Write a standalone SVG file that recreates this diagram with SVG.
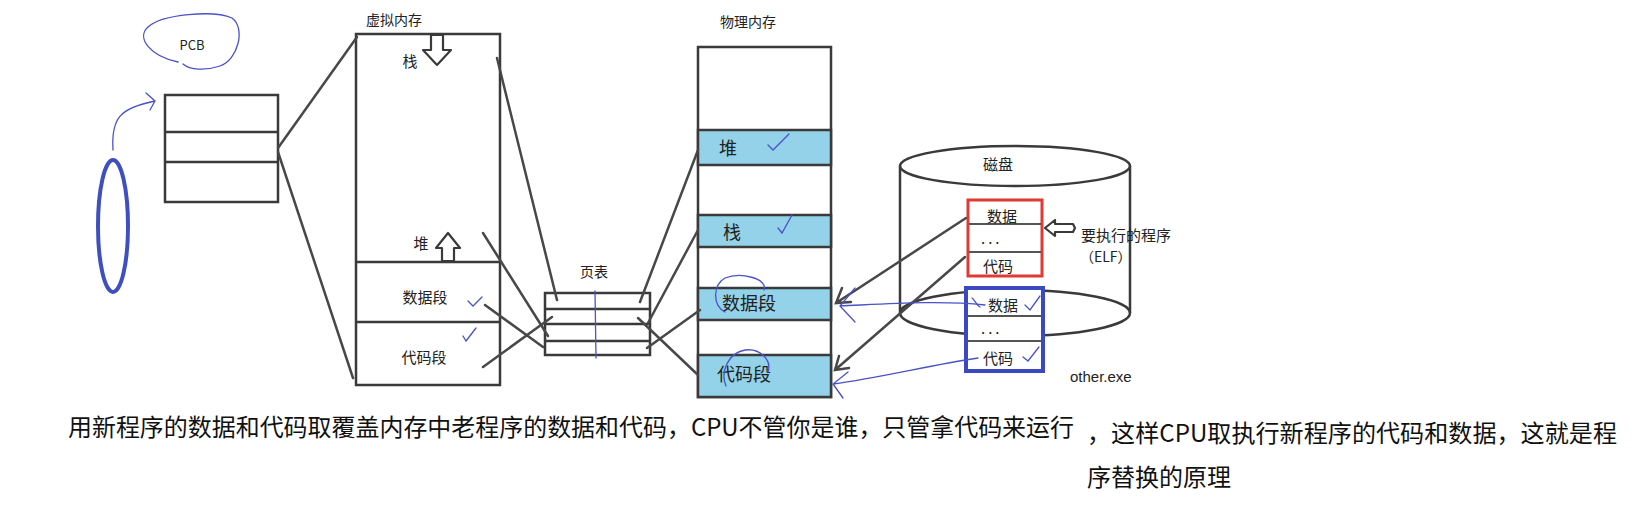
<svg xmlns="http://www.w3.org/2000/svg" width="1632" height="508" viewBox="0 0 1632 508">
<defs>
<style>
.box{fill:#fff;stroke:#3a3a3a;stroke-width:2.5}
.ln{stroke:#3a3a3a;stroke-width:2.5;fill:none}
.cn{stroke:#484848;stroke-width:2.5;fill:none;stroke-linecap:round}
.band{fill:#93d2e8;stroke:#3a3a3a;stroke-width:2.5}
.pen{stroke:#4a52c8;stroke-width:1.3;fill:none;stroke-linecap:round}
.t{font-family:"Noto Sans CJK SC","Noto Sans",sans-serif;fill:#222}
.s14{font-size:14px}.s15{font-size:15px}.s16{font-size:16px}.s18{font-size:18px}
.dots{font-family:"Noto Sans CJK SC","Noto Sans",sans-serif;font-size:15px;fill:#222;letter-spacing:3px}
.big{font-family:"Noto Sans CJK SC","Noto Sans",sans-serif;font-size:24px;fill:#111}
.hollow{fill:#fff;stroke:#3a3a3a;stroke-width:2.2;stroke-linejoin:round}
</style>
</defs>
<rect width="1632" height="508" fill="#fff"/>

<g id="pcb-label">
<path class="pen" d="M178,62 C150,56 136,38 148,27 C162,14 214,10 232,18 C246,28 238,60 220,66 C205,71 190,70 183,64"/>
<text class="t" x="192" y="50" font-size="13" text-anchor="middle" font-family="Liberation Sans,sans-serif">PCB</text>
</g>

<g id="process-ellipse">
<ellipse cx="113" cy="226" rx="15" ry="66" fill="none" stroke="#3f4fc0" stroke-width="4"/>
<path class="pen" d="M113,150 C111,118 120,108 155,101 M146,93 L155,101 L150,110"/>
</g>

<g id="pcb">
<rect class="box" x="165" y="95" width="113" height="107"/>
<line class="ln" x1="165" y1="132" x2="278" y2="132"/>
<line class="ln" x1="165" y1="162" x2="278" y2="162"/>
</g>

<g id="virtual-memory">
<text class="t s14" x="366" y="25">虚拟内存</text>
<rect class="box" x="356" y="34" width="144" height="351"/>
<line class="ln" x1="356" y1="262" x2="500" y2="262"/>
<line class="ln" x1="356" y1="322" x2="500" y2="322"/>
<polygon class="hollow" points="431,35 443,35 443,50 451,50 437,65 423,50 431,50"/>
<polygon class="hollow" points="448,233 460,248 454,248 454,261 442,261 442,248 436,248"/>
<text class="t s15" x="410" y="67" text-anchor="middle">栈</text>
<text class="t s15" x="421" y="249" text-anchor="middle">堆</text>
<text class="t s15" x="425" y="303" text-anchor="middle">数据段</text>
<text class="t s15" x="424" y="363" text-anchor="middle">代码段</text>
<path class="pen" d="M468,301 L473,306 L482,297"/>
<path class="pen" d="M463,336 L466,341 L476,328"/>
</g>

<g id="page-table">
<text class="t s14" x="594" y="277" text-anchor="middle">页表</text>
<rect class="box" x="545" y="293" width="105" height="62"/>
<line class="ln" x1="545" y1="309" x2="650" y2="309"/>
<line class="ln" x1="545" y1="324" x2="650" y2="324"/>
<line class="ln" x1="545" y1="341" x2="650" y2="341"/>
<path class="pen" d="M595,291 L596,358"/>
</g>

<g id="physical-memory">
<text class="t s14" x="720" y="27">物理内存</text>
<rect class="box" x="698" y="47" width="133" height="350"/>
<rect class="band" x="698" y="130" width="133" height="35"/>
<rect class="band" x="698" y="215" width="133" height="32"/>
<rect class="band" x="698" y="288" width="133" height="32"/>
<rect class="band" x="698" y="355" width="133" height="42"/>
<text class="t s18" x="728" y="155" text-anchor="middle">堆</text>
<text class="t s18" x="732" y="239" text-anchor="middle">栈</text>
<text class="t s18" x="749" y="310" text-anchor="middle">数据段</text>
<text class="t s18" x="744" y="381" text-anchor="middle">代码段</text>
<path class="pen" d="M768,145 L773,150 L789,134"/>
<path class="pen" d="M778,228 L782,233 L792,215"/>
<path class="pen" d="M725,312 C712,305 713,285 725,278 C740,272 768,278 764,290"/>
<path class="pen" d="M726,386 C720,372 728,353 745,350 C760,348 772,360 768,372"/>
</g>

<g id="disk">
<path class="ln" d="M900,166 L900,313 M1130,166 L1130,313"/>
<ellipse cx="1015" cy="166" rx="115" ry="20" fill="none" stroke="#3a3a3a" stroke-width="2.5"/>
<ellipse cx="1015" cy="313" rx="115" ry="23" fill="none" stroke="#3a3a3a" stroke-width="2.5"/>
<text class="t s15" x="998" y="170" text-anchor="middle">磁盘</text>
</g>

<g id="elf-program">
<rect x="968" y="200" width="74" height="76" fill="#fff" stroke="#e03a34" stroke-width="3"/>
<line x1="969" y1="224" x2="1041" y2="224" stroke="#555" stroke-width="2"/>
<line x1="969" y1="252" x2="1041" y2="252" stroke="#555" stroke-width="2"/>
<text class="t s15" x="1002" y="222" text-anchor="middle">数据</text>
<text class="dots" x="981" y="244">...</text>
<text class="t s15" x="998" y="272" text-anchor="middle">代码</text>
<polygon class="hollow" points="1045,228 1055,220 1055,224 1073,224 1075,228 1073,232 1055,232 1055,236"/>
<text class="t s15" x="1081" y="241">要执行的程序</text>
<text class="t s14" x="1080" y="262">（ELF）</text>
</g>

<g id="other-exe">
<rect x="966" y="288" width="77" height="83" fill="#fff" stroke="#3b49c0" stroke-width="4"/>
<line x1="968" y1="316" x2="1041" y2="316" stroke="#555" stroke-width="2"/>
<line x1="968" y1="341" x2="1041" y2="341" stroke="#555" stroke-width="2"/>
<text class="t s15" x="1003" y="311" text-anchor="middle">数据</text>
<text class="dots" x="981" y="334">...</text>
<text class="t s15" x="998" y="364" text-anchor="middle">代码</text>
<path class="pen" d="M1025,305 L1030,310 L1040,296"/>
<path class="pen" d="M1023,357 L1028,361 L1039,347"/>
<path class="pen" d="M972,298 C975,300 976,305 980,307"/>
<text x="1070" y="382" font-family="Liberation Sans,Arial,sans-serif" font-size="15" fill="#222">other.exe</text>
</g>

<g id="connectors">
<line class="cn" x1="278" y1="148" x2="357" y2="37"/>
<line class="cn" x1="278" y1="152" x2="353" y2="378"/>
<line class="cn" x1="497" y1="58" x2="557" y2="300"/>
<line class="cn" x1="483" y1="233" x2="548" y2="336"/>
<line class="cn" x1="485" y1="305" x2="543" y2="347"/>
<line class="cn" x1="483" y1="367" x2="552" y2="317"/>
<line class="cn" x1="640" y1="302" x2="698" y2="150"/>
<line class="cn" x1="648" y1="323" x2="698" y2="230"/>
<line class="cn" x1="647" y1="348" x2="700" y2="310"/>
<line class="cn" x1="638" y1="318" x2="698" y2="375"/>
<path class="cn" d="M966,218 L836,303 M842,288 L836,303 L851,302"/>
<path class="cn" d="M965,257 L835,370 M839,356 L835,370 L849,368"/>
<path class="pen" d="M985,305 C940,300 885,304 840,306 M855,288 L840,306 L855,322"/>
<path class="pen" d="M978,358 C930,365 880,378 833,384 M848,372 L833,384 L843,398"/>
</g>

<g id="captions">
<text class="big" x="68" y="436" textLength="1006" lengthAdjust="spacingAndGlyphs">用新程序的数据和代码取覆盖内存中老程序的数据和代码，CPU不管你是谁，只管拿代码来运行</text>
<text class="big" x="1087" y="442" textLength="530" lengthAdjust="spacingAndGlyphs">，这样CPU取执行新程序的代码和数据，这就是程</text>
<text class="big" x="1087" y="486">序替换的原理</text>
</g>
</svg>
